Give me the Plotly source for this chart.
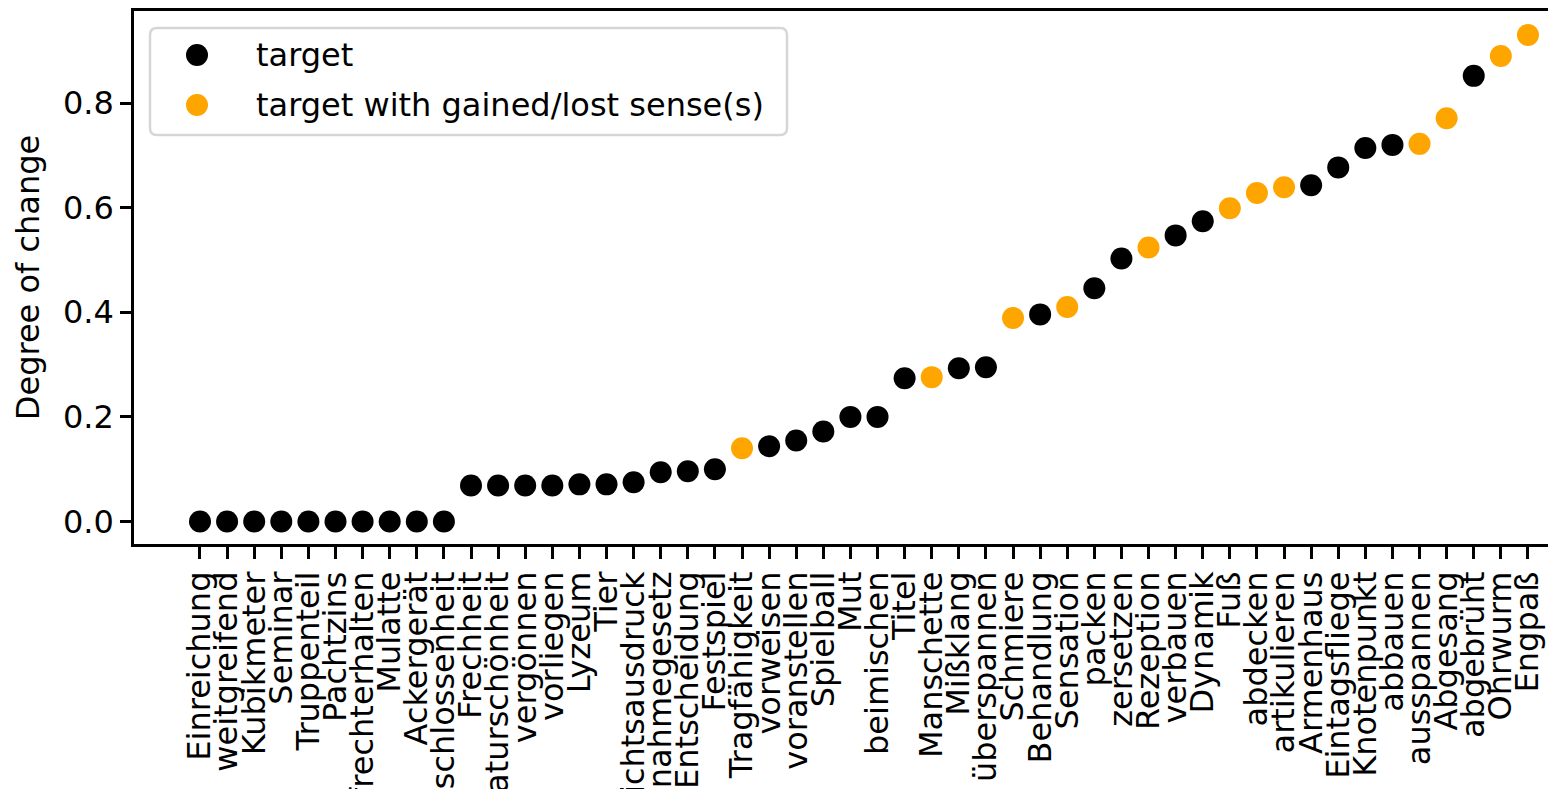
import re
import plotly.graph_objects as go

# Target words, ordered by degree of change
words = [
    "Einreichung", "weitgreifend", "Kubikmeter", "Seminar", "Truppenteil",
    "Pachtzins", "aufrechterhalten", "Mulatte", "Ackergerät", "Unentschlossenheit",
    "Frechheit", "Naturschönheit", "vergönnen", "vorliegen", "Lyzeum",
    "Tier", "Gesichtsausdruck", "Ausnahmegesetz", "Entscheidung", "Festspiel",
    "Tragfähigkeit", "vorweisen", "voranstellen", "Spielball", "Mut",
    "beimischen", "Titel", "Manschette", "Mißklang", "überspannen",
    "Schmiere", "Behandlung", "Sensation", "packen", "zersetzen",
    "Rezeption", "verbauen", "Dynamik", "Fuß", "abdecken",
    "artikulieren", "Armenhaus", "Eintagsfliege", "Knotenpunkt", "abbauen",
    "ausspannen", "Abgesang", "abgebrüht", "Ohrwurm", "Engpaß",
]

degree = [
    0.0, 0.0, 0.0, 0.0, 0.0,
    0.0, 0.0, 0.0, 0.0, 0.0,
    0.069, 0.069, 0.069, 0.069, 0.071,
    0.071, 0.075, 0.094, 0.096, 0.100,
    0.140, 0.144, 0.155, 0.172, 0.200,
    0.200, 0.274, 0.276, 0.293, 0.295,
    0.389, 0.396, 0.410, 0.446, 0.503,
    0.524, 0.547, 0.574, 0.599, 0.628,
    0.639, 0.643, 0.677, 0.714, 0.720,
    0.722, 0.771, 0.852, 0.890, 0.930,
]

# 1 = target gained or lost a sense
gained_lost = [
    0, 0, 0, 0, 0, 0, 0, 0, 0, 0,
    0, 0, 0, 0, 0, 0, 0, 0, 0, 0,
    1, 0, 0, 0, 0, 0, 0, 1, 0, 0,
    1, 0, 1, 0, 0, 1, 0, 0, 1, 1,
    1, 0, 0, 0, 0, 1, 1, 0, 1, 1,
]

series_names = ["target", "target with gained/lost sense(s)"]
series_colors = ["#000000", "#FFA500"]

FONT = "DejaVu Sans"
FS = 32
W, H = 1548, 789
ML, MR, MT, MB = 134, 0, 11, 245
PW, PH = W - ML - MR, H - MT - MB


def px_x(px):
    return (px - ML) / PW


def px_y(py):
    return (H - MB - py) / PH


fig = go.Figure()
for flag in (0, 1):
    xs = [w for w, g in zip(words, gained_lost) if g == flag]
    ys = [d for d, g in zip(degree, gained_lost) if g == flag]
    fig.add_trace(go.Scatter(
        x=xs, y=ys, mode="markers", name=series_names[flag],
        marker=dict(color=series_colors[flag], size=22, line=dict(width=0)),
        showlegend=False, cliponaxis=False,
    ))

# Legend box with rounded corners, laid out in pixels then mapped to paper
bx0, bx1, by0, by1 = 150, 787, 28, 135
r = 7
path = (
    f"M {bx0 + r},{by0} L {bx1 - r},{by0} Q {bx1},{by0} {bx1},{by0 + r} "
    f"L {bx1},{by1 - r} Q {bx1},{by1} {bx1 - r},{by1} "
    f"L {bx0 + r},{by1} Q {bx0},{by1} {bx0},{by1 - r} "
    f"L {bx0},{by0 + r} Q {bx0},{by0} {bx0 + r},{by0} Z"
)


def conv(m):
    a, b = float(m.group(1)), float(m.group(2))
    return f"{px_x(a):.5f},{px_y(b):.5f}"


paper_path = re.sub(r"([\d.]+),([\d.]+)", conv, path)

shapes = [dict(
    type="path", xref="paper", yref="paper", path=paper_path,
    line=dict(color="#d6d6d6", width=2.5), fillcolor="rgba(255,255,255,0.85)",
    layer="above",
)]
annotations = []
for i, (name, col) in enumerate(zip(series_names, series_colors)):
    cy = 55 + 50 * i
    shapes.append(dict(
        type="circle", xref="paper", yref="paper",
        xsizemode="pixel", ysizemode="pixel",
        xanchor=px_x(197), yanchor=px_y(cy),
        x0=-11, x1=11, y0=-11, y1=11,
        fillcolor=col, line=dict(width=0), layer="above",
    ))
    annotations.append(dict(
        x=px_x(254), y=px_y(cy), xref="paper", yref="paper",
        text=name, showarrow=False, xanchor="left", yanchor="middle",
        font=dict(family=FONT, size=FS, color="black"),
    ))

fig.update_layout(
    width=W, height=H,
    margin=dict(l=ML, r=MR, t=MT, b=MB, pad=0),
    paper_bgcolor="white", plot_bgcolor="white",
    font=dict(family=FONT, size=FS, color="black"),
    shapes=shapes, annotations=annotations,
    showlegend=False,
)
fig.update_xaxes(
    type="category", categoryorder="array", categoryarray=words,
    tickmode="array", tickvals=words, ticktext=words,
    range=[-2.435, 49.74], tickangle=-90,
    showgrid=False, zeroline=False,
    showline=True, linecolor="black", linewidth=2.5, mirror=True,
    ticks="outside", ticklen=12, tickwidth=2.5, tickcolor="black",
    tickfont=dict(family=FONT, size=FS, color="black"),
    automargin=False,
)
fig.update_yaxes(
    range=[-0.043, 0.976], tickvals=[0.0, 0.2, 0.4, 0.6, 0.8],
    ticktext=["0.0", "0.2", "0.4", "0.6", "0.8"],
    showgrid=False, zeroline=False,
    showline=True, linecolor="black", linewidth=2.5, mirror=False,
    ticks="outside", ticklen=11, tickwidth=2.5, tickcolor="black",
    tickfont=dict(family=FONT, size=FS, color="black"),
    title=dict(text="Degree of change", font=dict(family=FONT, size=FS, color="black"), standoff=14),
    automargin=False,
)

fig.write_html("out.html")
